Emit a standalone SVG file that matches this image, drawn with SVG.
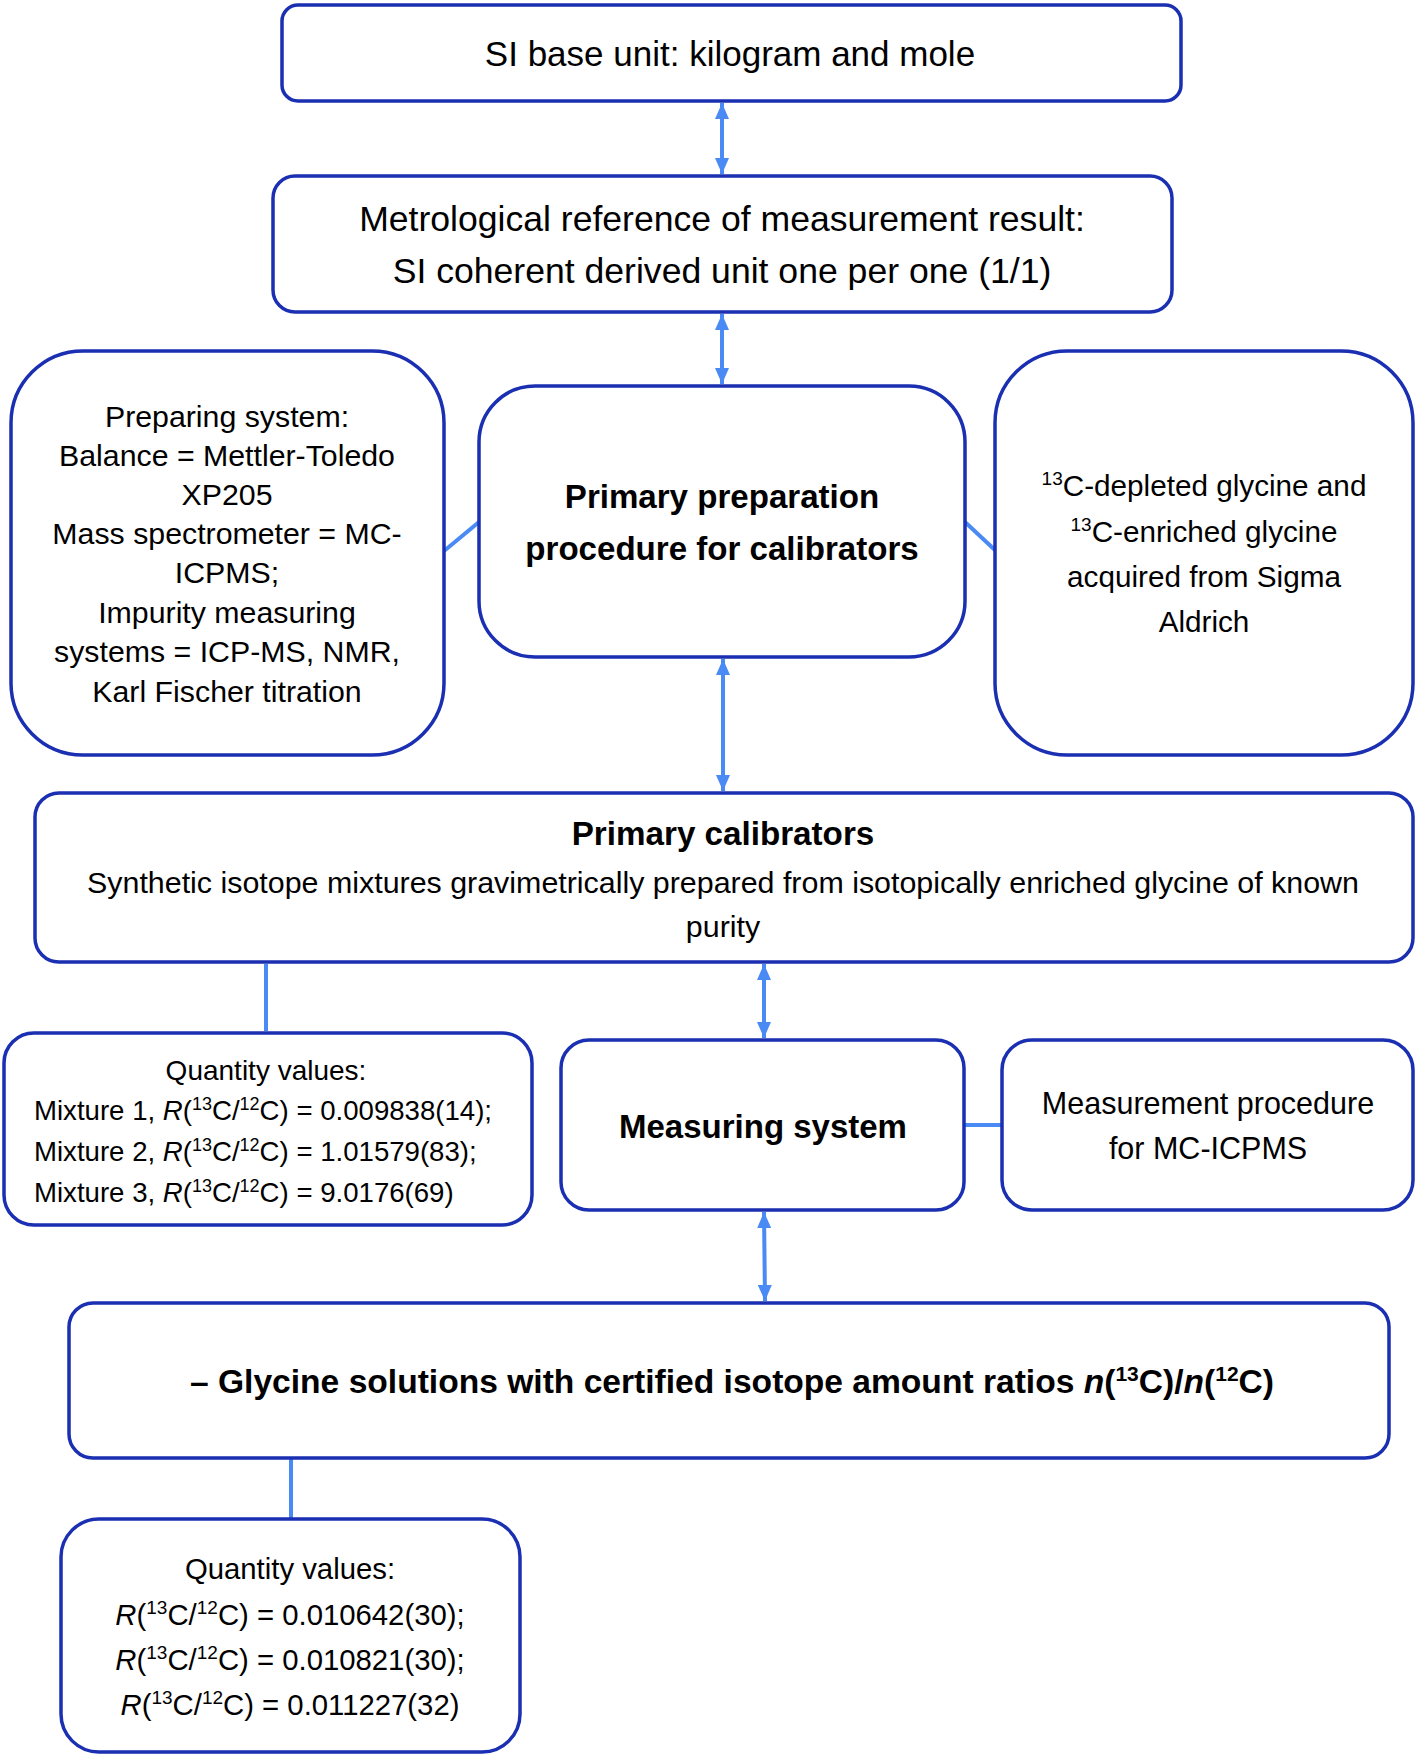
<svg xmlns="http://www.w3.org/2000/svg" width="1418" height="1756" viewBox="0 0 1418 1756">
<style>
.box{fill:#fff;stroke:#1a2fb1;stroke-width:3.5}
.t{font-family:"Liberation Sans",Arial,sans-serif;fill:#000;text-anchor:middle}
.s{text-anchor:start}
.b{font-weight:bold}
.c{stroke:#4a8af4;stroke-width:4;fill:none}
.i{font-style:italic}
</style>
<defs>
<marker id="ah" viewBox="0 0 16 14" refX="16" refY="7" markerWidth="16" markerHeight="14" markerUnits="userSpaceOnUse" orient="auto-start-reverse">
<path d="M0,0 L16,7 L0,14 z" fill="#4a8af4"/>
</marker>
</defs>
<rect width="1418" height="1756" fill="#fff"/>
<g id="connectors">
<line class="c" x1="722" y1="103" x2="722" y2="174" marker-start="url(#ah)" marker-end="url(#ah)"/>
<line class="c" x1="722" y1="314" x2="722" y2="384" marker-start="url(#ah)" marker-end="url(#ah)"/>
<line class="c" x1="444" y1="551" x2="479" y2="522"/>
<line class="c" x1="965" y1="522" x2="996" y2="551"/>
<line class="c" x1="723" y1="659" x2="723" y2="791" marker-start="url(#ah)" marker-end="url(#ah)"/>
<line class="c" x1="266" y1="964" x2="266" y2="1031"/>
<line class="c" x1="764" y1="964" x2="764" y2="1038" marker-start="url(#ah)" marker-end="url(#ah)"/>
<line class="c" x1="965" y1="1125" x2="1002" y2="1125"/>
<line class="c" x1="764" y1="1212" x2="765" y2="1301" marker-start="url(#ah)" marker-end="url(#ah)"/>
<line class="c" x1="291" y1="1459" x2="291" y2="1518"/>
</g>
<g id="n1">
<rect class="box" x="282" y="5" width="899" height="96" rx="16"/>
<text class="t" x="730" y="66" font-size="35">SI base unit: kilogram and mole</text>
</g>
<g id="n2">
<rect class="box" x="273" y="176" width="899" height="136" rx="22"/>
<text class="t" x="722" y="231" font-size="35.6">Metrological reference of measurement result:</text>
<text class="t" x="722" y="283" font-size="35.6">SI coherent derived unit one per one (1/1)</text>
</g>
<g id="n3">
<rect class="box" x="11" y="351" width="433" height="404" rx="72"/>
<text class="t" x="227" y="427" font-size="30.3">Preparing system:</text>
<text class="t" x="227" y="466" font-size="30.3">Balance = Mettler-Toledo</text>
<text class="t" x="227" y="505" font-size="30.3">XP205</text>
<text class="t" x="227" y="544" font-size="30.3">Mass spectrometer = MC-</text>
<text class="t" x="227" y="583" font-size="30.3">ICPMS;</text>
<text class="t" x="227" y="623" font-size="30.3">Impurity measuring</text>
<text class="t" x="227" y="662" font-size="30.3">systems = ICP-MS, NMR,</text>
<text class="t" x="227" y="702" font-size="30.3">Karl Fischer titration</text>
</g>
<g id="n4">
<rect class="box" x="479" y="386" width="486" height="271" rx="56"/>
<text class="t b" x="722" y="508" font-size="33.1">Primary preparation</text>
<text class="t b" x="722" y="560" font-size="33.1">procedure for calibrators</text>
</g>
<g id="n5">
<rect class="box" x="995" y="351" width="418" height="404" rx="72"/>
<text class="t" x="1204" y="496" font-size="29.7"><tspan font-size="19" dy="-11">13</tspan><tspan dy="11">C-depleted glycine and</tspan></text>
<text class="t" x="1204" y="542" font-size="29.7"><tspan font-size="19" dy="-11">13</tspan><tspan dy="11">C-enriched glycine</tspan></text>
<text class="t" x="1204" y="587" font-size="29.7">acquired from Sigma</text>
<text class="t" x="1204" y="632" font-size="29.7">Aldrich</text>
</g>
<g id="n6">
<rect class="box" x="35" y="793" width="1378" height="169" rx="24"/>
<text class="t b" x="723" y="845" font-size="33.2">Primary calibrators</text>
<text class="t" x="723" y="893" font-size="30.4">Synthetic isotope mixtures gravimetrically prepared from isotopically enriched glycine of known</text>
<text class="t" x="723" y="937" font-size="30.4">purity</text>
</g>
<g id="n7">
<rect class="box" x="4" y="1033" width="528" height="192" rx="30"/>
<text class="t" x="266" y="1080" font-size="28">Quantity values:</text>
<text class="t s" x="34" y="1120" font-size="27.6">Mixture 1, <tspan class="i">R</tspan>(<tspan font-size="18" dy="-10">13</tspan><tspan dy="10">C/</tspan><tspan font-size="18" dy="-10">12</tspan><tspan dy="10">C) = 0.009838(14);</tspan></text>
<text class="t s" x="34" y="1161" font-size="27.6">Mixture 2, <tspan class="i">R</tspan>(<tspan font-size="18" dy="-10">13</tspan><tspan dy="10">C/</tspan><tspan font-size="18" dy="-10">12</tspan><tspan dy="10">C) = 1.01579(83);</tspan></text>
<text class="t s" x="34" y="1202" font-size="27.6">Mixture 3, <tspan class="i">R</tspan>(<tspan font-size="18" dy="-10">13</tspan><tspan dy="10">C/</tspan><tspan font-size="18" dy="-10">12</tspan><tspan dy="10">C) = 9.0176(69)</tspan></text>
</g>
<g id="n8">
<rect class="box" x="561" y="1040" width="403" height="170" rx="28"/>
<text class="t b" x="763" y="1138" font-size="33">Measuring system</text>
</g>
<g id="n9">
<rect class="box" x="1002" y="1040" width="411" height="170" rx="30"/>
<text class="t" x="1208" y="1114" font-size="30.5">Measurement procedure</text>
<text class="t" x="1208" y="1159" font-size="30.5">for MC-ICPMS</text>
</g>
<g id="n10">
<rect class="box" x="69" y="1303" width="1320" height="155" rx="24"/>
<text class="t b" x="732" y="1393" font-size="33.6">– Glycine solutions with certified isotope amount ratios <tspan class="i">n</tspan>(<tspan font-size="21" dy="-12">13</tspan><tspan dy="12">C)/</tspan><tspan class="i">n</tspan>(<tspan font-size="21" dy="-12">12</tspan><tspan dy="12">C)</tspan></text>
</g>
<g id="n11">
<rect class="box" x="61" y="1519" width="459" height="233" rx="38"/>
<text class="t" x="290" y="1579" font-size="29.3">Quantity values:</text>
<text class="t" x="290" y="1625" font-size="29.3"><tspan class="i">R</tspan>(<tspan font-size="19" dy="-11">13</tspan><tspan dy="11">C/</tspan><tspan font-size="19" dy="-11">12</tspan><tspan dy="11">C) = 0.010642(30);</tspan></text>
<text class="t" x="290" y="1670" font-size="29.3"><tspan class="i">R</tspan>(<tspan font-size="19" dy="-11">13</tspan><tspan dy="11">C/</tspan><tspan font-size="19" dy="-11">12</tspan><tspan dy="11">C) = 0.010821(30);</tspan></text>
<text class="t" x="290" y="1715" font-size="29.3"><tspan class="i">R</tspan>(<tspan font-size="19" dy="-11">13</tspan><tspan dy="11">C/</tspan><tspan font-size="19" dy="-11">12</tspan><tspan dy="11">C) = 0.011227(32)</tspan></text>
</g>
</svg>
